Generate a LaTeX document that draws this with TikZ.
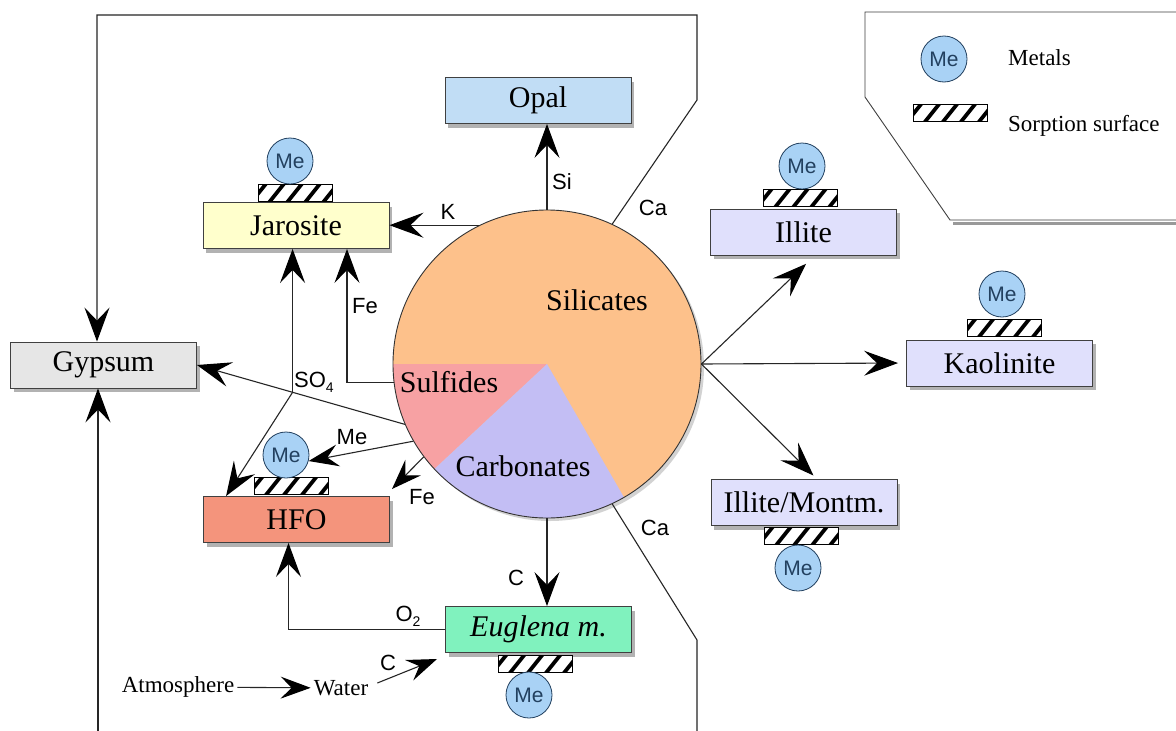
\documentclass[tikz,border=0pt]{standalone}
\usepackage{fontspec}
\setmainfont{Liberation Serif}
\setsansfont{Liberation Sans}
\usetikzlibrary{arrows.meta,shadows,calc}
\definecolor{silcol}{HTML}{FDC18B}
\definecolor{sulcol}{HTML}{F7A1A3}
\definecolor{carcol}{HTML}{C3BEF4}
\definecolor{opalcol}{HTML}{C1DDF5}
\definecolor{jarcol}{HTML}{FFFFCC}
\definecolor{gypcol}{HTML}{E6E6E6}
\definecolor{hfocol}{HTML}{F4947C}
\definecolor{eugcol}{HTML}{80F2BE}
\definecolor{claycol}{HTML}{E0E0FC}
\definecolor{mecol}{HTML}{A9D2F5}
\definecolor{meline}{HTML}{22405F}
\begin{document}
\begin{tikzpicture}[x=1pt,y=-1pt,
  box/.style={draw=black!75, line width=0.9pt, minimum width=186pt, minimum height=46pt,
    inner sep=0pt, font=\fontsize{30}{32}\selectfont,
    drop shadow={shadow xshift=3pt, shadow yshift=-4pt, fill=black!60, opacity=0.5}},
  me/.style={circle, draw=meline, line width=0.8pt, fill=mecol, minimum size=46pt, inner sep=0pt,
    font=\sffamily\fontsize{21}{21}\selectfont, text=meline},
  hatch/.style={draw=black, line width=0.8pt, fill=white, minimum width=74pt, minimum height=17pt, inner sep=0pt,
    path picture={\foreach \k in {-3,...,3}{\draw[line width=3.8pt]
      ($(path picture bounding box.center)+(\k*18pt-8pt,-10pt)$) -- ++(16pt,20pt);}}},
  lab/.style={font=\sffamily\fontsize{22}{22}\selectfont, inner sep=1pt},
  txt/.style={font=\fontsize{23}{23}\selectfont, inner sep=3pt},
  pielab/.style={font=\fontsize{30}{30}\selectfont, inner sep=0pt},
  conn/.style={line width=1.1pt, draw=black!85},
  arr/.style={conn, -{Stealth[length=34pt,width=25pt,inset=13pt,color=black]}},
  sarr/.style={conn, -{Stealth[length=30pt,width=22pt,inset=11pt,color=black]}}
]
\useasboundingbox (0,0) rectangle (1176,731);
\fill[white] (0,0) rectangle (1176,731);

% pie chart
\fill[black!35, opacity=0.5] (550,367) circle (154);
\begin{scope}[shift={(547,364)}, y=1pt]
  \fill[silcol] (0,0) circle (154);
  \fill[sulcol] (0,0) -- (180:154) arc (180:223:154) -- cycle;
  \fill[carcol] (0,0) -- (223:154) arc (223:300:154) -- cycle;
\end{scope}
\node[circle, draw=black!80, line width=0.9pt, minimum size=308pt, inner sep=0pt] (pie) at (547,364) {};
\node[pielab] (sil) at (597,300) {Silicates};
\node[pielab] (sul) at (449,382) {Sulfides};
\node[pielab] (car) at (523,466) {Carbonates};

% boxes
\node[box, fill=opalcol] (opal) at (538,100.5) {Opal};
\node[box, fill=jarcol] (jar) at (296,225.5) {Jarosite};
\node[box, fill=gypcol] (gyp) at (103.5,365) {Gypsum};
\node[box, fill=hfocol] (hfo) at (296.5,519.5) {HFO};
\node[box, fill=eugcol] (eug) at (538.5,629.5) {\itshape Euglena m.};
\node[box, fill=claycol] (ill) at (803.5,232) {Illite};
\node[box, fill=claycol] (kao) at (999.5,363) {Kaolinite};
\node[box, fill=claycol] (im) at (804,502.5) {Illite/Montm.};

% sorption surfaces and metals
\node[hatch] (jarh) at (295,192.5) {};
\node[me] (jarme) at (290,161) {Me};
\node[hatch] (illh) at (800.5,198) {};
\node[me] (illme) at (802,166) {Me};
\node[hatch] (kaoh) at (1004.5,327.5) {};
\node[me] (kaome) at (1002,294) {Me};
\node[hatch] (imh) at (801.5,536) {};
\node[me] (imme) at (798,568) {Me};
\node[hatch] (hfoh) at (291.5,485.5) {};
\node[me] (hfome) at (286,455) {Me};
\node[hatch] (eugh) at (535.5,663.5) {};
\node[me] (eugme) at (529,695) {Me};

% legend
\draw[black!40, line width=3pt] (953,223) -- (1180,223);
\draw[black!75, line width=0.9pt] (1180,12) -- (865,12) -- (865,97) -- (950,220) -- (1180,220);
\node[me] (lme) at (944,59) {Me};
\node[hatch] (lh) at (950,113) {};
\node[txt, anchor=base west] (lmet) at (1005,65) {Metals};
\node[txt, anchor=base west] (lsor) at (1005,131) {Sorption surface};

% outer Ca loop
\coordinate (tr1) at (697,100);
\coordinate (tr2) at (697,15);
\coordinate (tl) at (97,15);
\draw[arr] (pie.65) -- (tr1) -- (tr2) -- (tl) -- (tl |- gyp.north);
\coordinate (br1) at (697,640);
\coordinate (br2) at (697,740);
\draw[conn] (pie.-65) -- (br1) -- (br2);
\coordinate (bl) at (98,740);
\draw[arr] (bl) -- (bl |- gyp.south);
\node[lab] (ca1) at (653,208) {Ca};
\node[lab] (ca2) at (655,528) {Ca};

% connectors from pie
\draw[arr] (pie.north) -- (pie.north |- opal.south);
\node[lab] (si) at (562,182) {Si};
\draw[arr] (pie.116) -- (pie.116 -| jar.east);
\node[lab] (k) at (448,212) {K};
\draw[arr] (pie.187) -| ([xshift=51pt]jar.south);
\node[lab] (fe1) at (365,306) {Fe};
\draw[arr] (pie.203) -- (gyp.east);
\coordinate (so4) at ($(pie.203)!0.54!(gyp.east)$);
\draw[arr] (so4) -- (so4 |- jar.south);
\draw[arr] (so4) -- ([xshift=23pt]hfo.north west);
\node[lab, anchor=west] (so4l) at (293,382) {SO\raisebox{-0.45ex}{\fontsize{14}{14}\selectfont 4}};
\draw[sarr] (pie.210) -- (hfome.-15);
\node[lab] (mel) at (352,437) {Me};
\coordinate (fetip) at (392,489);
\draw[sarr] (pie.217) -- (fetip);
\node[lab] (fe2) at (422,497) {Fe};
\draw[arr] (pie.south) -- (pie.south |- eug.north);
\node[lab] (c1) at (516,578) {C};
\draw[arr] (eug.west) -| ([xshift=-8pt]hfo.south);
\node[lab] (o2) at (408,616) {O\raisebox{-0.45ex}{\fontsize{14}{14}\selectfont 2}};

% clays
\draw[arr, shorten >=2pt] (pie.east) -- ([xshift=4pt,yshift=-7pt]ill.south);
\draw[arr, shorten >=8pt] (pie.east) -- (kao.west);
\draw[arr, shorten >=5pt] (pie.east) -- ([xshift=13pt]im.north);

% atmosphere / water
\node[txt] (atm) at (178,687) {Atmosphere};
\node[txt] (wat) at (341,688) {Water};
\draw[sarr] (atm) -- (wat);
\coordinate (ctip) at (437,659);
\draw[sarr] ([shift={(6pt,5pt)}]wat.east) -- (ctip);
\node[lab] (c2) at (388,663) {C};
\end{tikzpicture}
\end{document}
